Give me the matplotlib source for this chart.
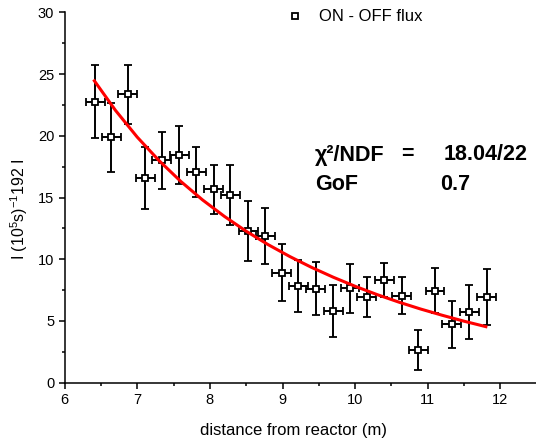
import matplotlib
matplotlib.use('Agg')
import matplotlib.pyplot as plt
from matplotlib.ticker import MultipleLocator

plt.rcParams['font.family'] = ['Liberation Sans', 'DejaVu Sans']
plt.rcParams['mathtext.fontset'] = 'custom'
plt.rcParams['mathtext.rm'] = 'Liberation Sans'
plt.rcParams['mathtext.it'] = 'Liberation Sans:italic'

# measured points (distance in m, flux)
dist = [6.42, 6.64, 6.87, 7.11, 7.34, 7.58, 7.81, 8.05, 8.28, 8.53, 8.76, 8.99,
        9.22, 9.46, 9.70, 9.93, 10.16, 10.40, 10.64, 10.87, 11.10, 11.33, 11.57, 11.81]
flux = [22.75, 19.87, 23.35, 16.55, 18.0, 18.46, 17.08, 15.66, 15.2, 12.28, 11.88, 8.91,
        7.83, 7.61, 5.83, 7.64, 6.96, 8.32, 7.05, 2.65, 7.45, 4.73, 5.70, 6.96]
flux_err = [2.95, 2.8, 2.4, 2.5, 2.3, 2.35, 2.0, 2.0, 2.45, 2.45, 2.3, 2.3,
            2.1, 2.15, 2.1, 2.0, 1.6, 1.4, 1.5, 1.65, 1.8, 1.9, 2.2, 2.25]
dist_err = [0.13] * len(dist)

# fitted curve
fit_x = [6.41, 6.7, 7.0, 7.3, 7.6, 7.9, 8.2, 8.5, 8.8, 9.1, 9.4, 9.7,
         10.0, 10.3, 10.6, 10.9, 11.2, 11.5, 11.8]
fit_y = [24.45, 22.06, 19.89, 17.99, 16.30, 14.80, 13.47, 12.27, 11.19, 10.22, 9.34, 8.54,
         7.81, 7.14, 6.53, 5.97, 5.46, 4.98, 4.54]

W, H = 536, 443
fig = plt.figure(figsize=(W / 100, H / 100), dpi=100)
ax = fig.add_axes([64.6 / W, 1 - 382.7 / H, (W - 64.6) / W, (382.7 - 12.3) / H])

ax.errorbar(dist, flux, yerr=flux_err, xerr=dist_err, fmt='s', color='black',
            mfc='white', mec='black', ms=4.5, mew=1.3, elinewidth=1.4,
            capsize=3, capthick=1.4, zorder=3)
ax.plot(fit_x, fit_y, color='red', lw=2.2, zorder=4)

ax.set_xlim(6, 12.49)
ax.set_ylim(0, 30)
ax.xaxis.set_major_locator(MultipleLocator(1))
ax.xaxis.set_minor_locator(MultipleLocator(0.5))
ax.yaxis.set_major_locator(MultipleLocator(5))
ax.yaxis.set_minor_locator(MultipleLocator(2.5))
for s in ['top', 'right']:
    ax.spines[s].set_visible(False)
for s in ['left', 'bottom']:
    ax.spines[s].set_linewidth(1.1)
ax.tick_params(which='major', direction='out', length=4, width=1.1, labelsize=10.5)
ax.tick_params(which='minor', direction='out', length=2.5, width=1.1)

# overlay in figure pixels for labels / legend / fit text
ov = fig.add_axes([0, 0, 1, 1], facecolor='none')
ov.set_axis_off()
ov.set_xlim(0, W)
ov.set_ylim(H, 0)

ov.text(293, 430, 'distance from reactor (m)', fontsize=12, ha='center', va='center')
ov.text(19, 209, r'I (10$^5$s)$^{-1}$192 I', fontsize=11.5, ha='center', va='center',
        rotation=90)

# legend
ov.plot([295], [16], 's', ms=4.5, mfc='white', mec='black', mew=1.3)
ov.text(319, 16, 'ON - OFF flux', fontsize=12, va='center', ha='left')

# fit annotation
bold = dict(fontsize=15.5, fontweight='bold', va='center')
ov.text(315, 155, '\u03c7\u00b2/NDF', ha='left', **bold)
ov.text(401, 155, '=', ha='left', **bold)
ov.text(528, 155, '18.04/22', ha='right', **bold)
ov.text(315, 184, 'GoF', ha='left', **bold)
ov.text(440, 184, '0.7', ha='left', **bold)

fig.savefig('out.png', dpi=100, facecolor='white')
